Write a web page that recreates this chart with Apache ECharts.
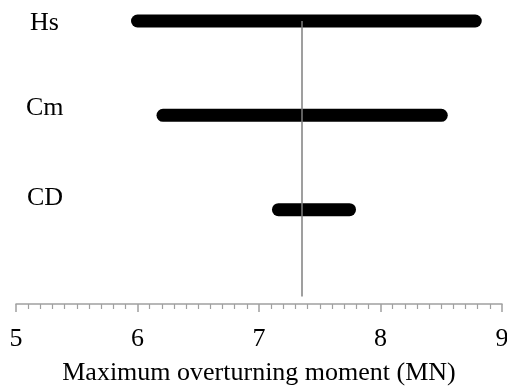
<!DOCTYPE html>
<html>
<head>
<meta charset="utf-8">
<script src="https://cdn.jsdelivr.net/npm/echarts@6/dist/echarts.min.js"></script>
<style>
  html, body { margin: 0; padding: 0; background: #fff; overflow: hidden; }
  #chart { width: 507px; height: 390px; }
</style>
</head>
<body>
<div id="chart"></div>
<script>
// Parameters and the range of maximum overturning moment each one produces (MN)
const parameters = ['Hs', 'Cm', 'CD'];
const rangeLow = [6.0, 6.21, 7.16];
const rangeHigh = [8.78, 8.50, 7.745];
const rowLevel = [3, 2, 1];
const baseValue = 7.35;
const xTicks = [5, 6, 7, 8, 9];

const serif = '"Liberation Serif", "Times New Roman", serif';

const chart = echarts.init(document.getElementById('chart'), null, {
  renderer: 'canvas', width: 507, height: 390
});

const rangeSeries = parameters.map((name, i) => ({
  name: name,
  type: 'line',
  clip: false,
  symbol: 'none',
  silent: true,
  z: 2,
  lineStyle: { color: '#000', width: 13, cap: 'round' },
  data: [[rangeLow[i], rowLevel[i]], [rangeHigh[i], rowLevel[i]]]
}));

rangeSeries.push({
  name: 'base',
  type: 'line',
  symbol: 'none',
  clip: false,
  z: 5,
  data: [],
  markLine: {
    silent: true,
    symbol: 'none',
    label: { show: false },
    lineStyle: { color: '#7f7f7f', width: 1.5, type: 'solid' },
    data: [[{ coord: [baseValue, 3] }, { coord: [baseValue, 0.08] }]]
  }
});

const labelTops = [23.5, 108.5, 198.5];
const labelLefts = [30, 26, 27];

chart.setOption({
  animation: false,
  backgroundColor: '#fff',
  grid: {
    left: 16, right: 5, top: 21, bottom: 86,
    containLabel: false, outerBoundsMode: 'none'
  },
  xAxis: {
    type: 'value',
    min: xTicks[0],
    max: xTicks[xTicks.length - 1],
    interval: 1,
    splitLine: { show: false },
    axisLine: { show: true, lineStyle: { color: '#a0a0a0', width: 1.5 } },
    axisTick: { show: true, length: 8, lineStyle: { color: '#a0a0a0', width: 1.5 } },
    minorTick: { show: true, splitNumber: 10, length: 5, lineStyle: { color: '#a0a0a0', width: 1.2 } },
    axisLabel: {
      color: '#000', fontFamily: serif, fontSize: 26, margin: 22,
      formatter: v => String(v)
    },
    name: 'Maximum overturning moment (MN)',
    nameLocation: 'middle',
    nameGap: 56,
    nameTextStyle: { color: '#000', fontFamily: serif, fontSize: 26 }
  },
  yAxis: {
    type: 'value',
    min: 0,
    max: 3,
    show: false
  },
  graphic: parameters.map((p, i) => ({
    type: 'text',
    x: labelLefts[i],
    y: labelTops[i],
    style: { text: p, font: '26px ' + serif, fill: '#000', verticalAlign: 'middle', align: 'left' }
  })),
  series: rangeSeries
});
</script>
</body>
</html>
